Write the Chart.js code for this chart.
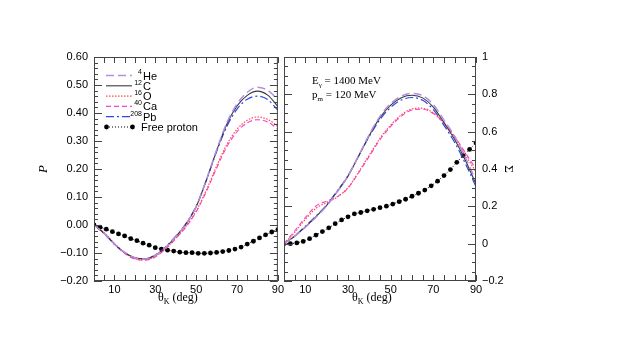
<!DOCTYPE html>
<html>
<head>
<meta charset="utf-8">
<script src="https://cdn.jsdelivr.net/npm/chart.js@4.4.1/dist/chart.umd.min.js"></script>
<style>
  html, body { margin: 0; padding: 0; background: #fff; }
  #wrap { position: relative; width: 623px; height: 339px; }
  #left { position: absolute; left: 0; top: 0; }
  #right { position: absolute; left: 280px; top: 0; }
</style>
</head>
<body>
<div id="wrap">
  <canvas id="left" width="286" height="339"></canvas>
  <canvas id="right" width="343" height="339"></canvas>
</div>
<script>
// nuclei shown in the legend
const isotopeMass = ["4", "12", "16", "40", "208"];
const isotopeSymbol = ["He", "C", "O", "Ca", "Pb"];

// theta_K (deg)
const curveAngles = [0, 5, 10, 15, 20, 25, 30, 35, 40, 45, 50, 55, 60, 65, 70, 75, 80, 85, 90];
const protonAngles = [0, 3, 6, 9, 12, 15, 18, 21, 24, 27, 30, 33, 36, 39, 42, 45, 48, 51, 54, 57, 60, 63, 66, 69, 72, 75, 78, 81, 84, 87, 90];

// left panel: P
const polHe = [0, -0.030, -0.068, -0.098, -0.117, -0.121, -0.108, -0.080, -0.042, 0.003, 0.066, 0.162, 0.268, 0.365, 0.432, 0.474, 0.492, 0.481, 0.448];
const polC  = [0, -0.030, -0.068, -0.098, -0.117, -0.121, -0.108, -0.080, -0.042, 0.003, 0.065, 0.160, 0.265, 0.360, 0.425, 0.463, 0.478, 0.464, 0.424];
const polO  = [0, -0.028, -0.066, -0.099, -0.120, -0.124, -0.112, -0.084, -0.047, -0.005, 0.050, 0.125, 0.210, 0.287, 0.342, 0.374, 0.386, 0.377, 0.353];
const polCa = [0, -0.029, -0.068, -0.101, -0.122, -0.126, -0.114, -0.086, -0.049, -0.007, 0.047, 0.120, 0.203, 0.279, 0.333, 0.365, 0.376, 0.368, 0.343];
const polPb = [0, -0.031, -0.069, -0.099, -0.118, -0.121, -0.107, -0.078, -0.040, 0.005, 0.067, 0.160, 0.262, 0.352, 0.414, 0.449, 0.460, 0.448, 0.410];
const polProton = [0, -0.008, -0.015, -0.024, -0.032, -0.039, -0.049, -0.056, -0.065, -0.072, -0.081, -0.086, -0.090, -0.093, -0.097, -0.099,
  -0.099, -0.101, -0.101, -0.100, -0.098, -0.095, -0.091, -0.086, -0.079, -0.068, -0.058, -0.046, -0.035, -0.025, -0.017];

// right panel: Sigma
const asymHe = [0, 0.040, 0.088, 0.142, 0.202, 0.278, 0.362, 0.472, 0.585, 0.682, 0.750, 0.790, 0.805, 0.793, 0.745, 0.662, 0.575, 0.463, 0.335];
const asymC  = [0, 0.040, 0.090, 0.145, 0.205, 0.280, 0.362, 0.470, 0.580, 0.675, 0.742, 0.782, 0.795, 0.781, 0.732, 0.648, 0.558, 0.447, 0.320];
const asymO  = [0, 0.060, 0.130, 0.190, 0.220, 0.250, 0.300, 0.385, 0.475, 0.565, 0.635, 0.690, 0.722, 0.726, 0.700, 0.645, 0.568, 0.475, 0.385];
const asymCa = [0, 0.068, 0.140, 0.202, 0.228, 0.252, 0.298, 0.380, 0.468, 0.557, 0.628, 0.683, 0.716, 0.720, 0.697, 0.647, 0.575, 0.487, 0.400];
const asymPb = [0, 0.042, 0.093, 0.148, 0.208, 0.283, 0.365, 0.470, 0.575, 0.665, 0.730, 0.770, 0.783, 0.768, 0.718, 0.634, 0.542, 0.430, 0.305];
const asymProton = [0, 0, 0.004, 0.012, 0.027, 0.046, 0.065, 0.085, 0.107, 0.127, 0.144, 0.160, 0.167, 0.176, 0.184, 0.193,
  0.201, 0.212, 0.225, 0.238, 0.254, 0.270, 0.287, 0.310, 0.335, 0.365, 0.397, 0.436, 0.472, 0.505, 0.540];

const xTickLabels = [10, 30, 50, 70, 90];

const styles = [
  { color: "#b48ee0", dash: [8, 4], width: 1.5 },
  { color: "#3a3a3a", dash: [], width: 1.1 },
  { color: "#ff4a4a", dash: [1.5, 1.5], width: 1.2 },
  { color: "#ff3fd2", dash: [5, 3], width: 1.1 },
  { color: "#2f46f0", dash: [8, 3, 2, 3], width: 1.2 },
];

const SANS = "'Liberation Sans', Arial, sans-serif";
const SERIF = "'Liberation Serif', 'Times New Roman', serif";

function buildDatasets(series, proton) {
  const sets = series.map((vals, i) => ({
    label: isotopeMass[i] + isotopeSymbol[i],
    data: curveAngles.map((a, k) => ({ x: a, y: vals[k] })),
    borderColor: styles[i].color,
    borderDash: styles[i].dash,
    borderWidth: styles[i].width,
    pointRadius: 0,
    cubicInterpolationMode: "monotone",
    fill: false,
  }));
  sets.push({
    label: "Free proton",
    data: protonAngles.map((a, k) => ({ x: a, y: proton[k] })),
    borderColor: "#000",
    borderDash: [1, 2],
    borderWidth: 1,
    pointRadius: 2.4,
    pointBackgroundColor: "#000",
    pointBorderWidth: 0,
    tension: 0,
    fill: false,
  });
  return sets;
}

// frame + inward ticks on all four sides
const frameTicks = {
  id: "frameTicks",
  afterDraw(chart, args, opts) {
    const { ctx, chartArea: a, scales } = chart;
    const xs = scales.x, ys = scales.y;
    ctx.save();
    ctx.strokeStyle = "#444";
    ctx.lineWidth = 1;
    ctx.strokeRect(a.left + 0.5, a.top + 0.5, a.right - a.left - 1, a.bottom - a.top - 1);
    ctx.beginPath();
    for (let d = 0; d <= 90; d += 5) {
      const px = Math.round(xs.getPixelForValue(d)) + 0.5;
      ctx.moveTo(px, a.bottom); ctx.lineTo(px, a.bottom - 6);
      ctx.moveTo(px, a.top); ctx.lineTo(px, a.top + 6);
    }
    for (let v = opts.min; v <= opts.max; v += opts.minor) {
      const py = Math.round(ys.getPixelForValue(v / 100)) + 0.5;
      const len = v % opts.major === 0 ? 8 : 4;
      ctx.moveTo(a.left, py); ctx.lineTo(a.left + len, py);
      ctx.moveTo(a.right, py); ctx.lineTo(a.right - len, py);
    }
    ctx.stroke();

    // x title: theta_K (deg)
    const cx = (a.left + a.right) / 2 - 28;
    const ty = a.bottom + 20;
    ctx.fillStyle = "#000";
    ctx.textBaseline = "alphabetic";
    ctx.font = "12px " + SERIF;
    ctx.fillText("\u03b8", cx, ty);
    let w = ctx.measureText("\u03b8").width;
    ctx.font = "8px " + SERIF;
    ctx.fillText("K", cx + w, ty + 3);
    w += ctx.measureText("K").width;
    ctx.font = "12px " + SERIF;
    ctx.fillText(" (deg)", cx + w, ty);
    ctx.restore();
  },
};

// legend inside left panel
const innerLegend = {
  id: "innerLegend",
  afterDraw(chart) {
    const { ctx } = chart;
    ctx.save();
    chart.data.datasets.forEach((ds, i) => {
      const y = 75.5 + i * 10.3;
      ctx.strokeStyle = ds.borderColor;
      ctx.lineWidth = ds.borderWidth;
      ctx.setLineDash(ds.borderDash);
      ctx.beginPath();
      ctx.moveTo(106, y); ctx.lineTo(132, y);
      ctx.stroke();
      ctx.setLineDash([]);
      ctx.fillStyle = "#000";
      ctx.textBaseline = "middle";
      if (i < isotopeMass.length) {
        ctx.font = "7px " + SANS;
        ctx.textAlign = "right";
        ctx.fillText(isotopeMass[i], 142, y - 3);
        ctx.font = "11px " + SANS;
        ctx.textAlign = "left";
        ctx.fillText(isotopeSymbol[i], 143, y + 1);
      } else {
        ctx.beginPath();
        ctx.arc(106.5, y, 2.4, 0, Math.PI * 2);
        ctx.arc(132.5, y, 2.4, 0, Math.PI * 2);
        ctx.fill();
        ctx.font = "11px " + SANS;
        ctx.textAlign = "left";
        ctx.fillText(ds.label, 141, y + 1);
      }
    });
    ctx.restore();
  },
};

// kinematics note in right panel
const kinematics = {
  id: "kinematics",
  afterDraw(chart) {
    const { ctx, chartArea: a } = chart;
    ctx.save();
    ctx.fillStyle = "#000";
    ctx.textBaseline = "alphabetic";
    const x0 = a.left + 28;
    const rows = [["E", "\u03b3", " = 1400 MeV", 84], ["p", "m", " = 120 MeV", 98]];
    rows.forEach(([main, sub, rest, y]) => {
      ctx.font = "11px " + SERIF;
      ctx.fillText(main, x0, y);
      let w = ctx.measureText(main).width;
      ctx.font = "7px " + SERIF;
      ctx.fillText(sub, x0 + w, y + 2.5);
      w += ctx.measureText(sub).width;
      ctx.font = "11px " + SERIF;
      ctx.fillText(rest, x0 + w, y);
    });
    ctx.restore();
  },
};

function xScale() {
  return {
    type: "linear",
    min: 0,
    max: 90,
    grid: { display: false, drawTicks: false },
    border: { display: false },
    afterBuildTicks: (s) => { s.ticks = xTickLabels.map((v) => ({ value: v })); },
    afterFit: (s) => { s.height = 58; },
    ticks: { padding: 2, color: "#000", font: { family: SANS, size: 11 } },
  };
}

new Chart(document.getElementById("left"), {
  type: "line",
  data: { datasets: buildDatasets([polHe, polC, polO, polCa, polPb], polProton) },
  options: {
    responsive: false,
    animation: false,
    layout: { padding: { top: 57, left: 36, right: 2, bottom: 0 } },
    scales: {
      x: xScale(),
      y: {
        min: -0.2,
        max: 0.6,
        grid: { display: false, drawTicks: false },
        border: { display: false },
        afterFit: (s) => { s.width = 58; },
        ticks: {
          stepSize: 0.1,
          padding: 6,
          color: "#000",
          font: { family: SANS, size: 11 },
          callback: (v) => { const r = Math.round(v * 100) / 100; return (r < 0 ? "\u2212" : "") + Math.abs(r).toFixed(2); },
        },
        title: { display: true, text: "P", padding: 0, color: "#000", font: { family: SERIF, style: "italic", size: 13 } },
      },
    },
    plugins: {
      legend: { display: false },
      tooltip: { enabled: false },
      frameTicks: { min: -20, max: 60, minor: 2, major: 10 },
    },
  },
  plugins: [frameTicks, innerLegend],
});

new Chart(document.getElementById("right"), {
  type: "line",
  data: { datasets: buildDatasets([asymHe, asymC, asymO, asymCa, asymPb], asymProton) },
  options: {
    responsive: false,
    animation: false,
    layout: { padding: { top: 57, left: 4, right: 107, bottom: 0 } },
    scales: {
      x: xScale(),
      y: {
        position: "right",
        min: -0.2,
        max: 1,
        grid: { display: false, drawTicks: false },
        border: { display: false },
        afterFit: (s) => { s.width = 40; },
        ticks: {
          stepSize: 0.2,
          padding: 6,
          color: "#000",
          font: { family: SANS, size: 11 },
          callback: (v) => {
            const r = Math.round(v * 10) / 10;
            if (r === 0 || r === 1) return String(r);
            return (r < 0 ? "\u2212" : "") + Math.abs(r).toFixed(1);
          },
        },
        title: { display: true, text: "\u03a3", padding: 0, color: "#000", font: { family: SERIF, size: 13 } },
      },
    },
    plugins: {
      legend: { display: false },
      tooltip: { enabled: false },
      frameTicks: { min: -20, max: 100, minor: 5, major: 20 },
    },
  },
  plugins: [frameTicks, kinematics],
});
</script>
</body>
</html>
